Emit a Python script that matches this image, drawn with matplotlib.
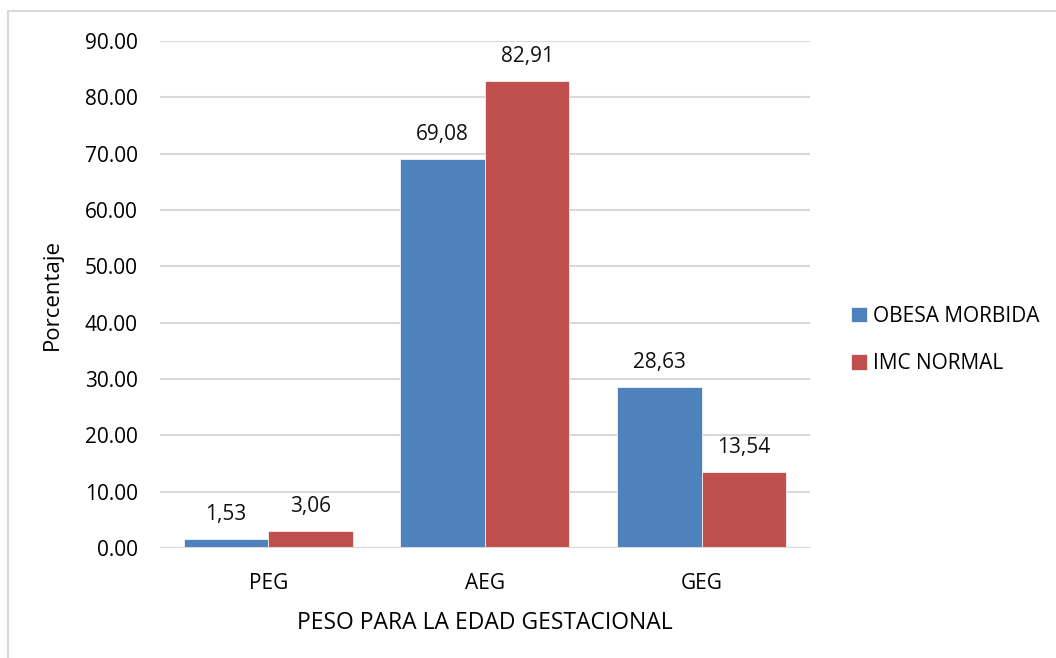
import numpy as np
import matplotlib
matplotlib.use("Agg")
import matplotlib.pyplot as plt
from matplotlib.patches import Rectangle

plt.rcParams['font.family'] = ['Open Sans', 'DejaVu Sans']

categorias = ["PEG", "AEG", "GEG"]
series = ["OBESA MORBIDA", "IMC NORMAL"]
obesa = [1.53, 69.08, 28.63]
normal = [3.06, 82.91, 13.54]
colores = ["#4F81BD", "#C0504D"]
yticks = [0, 10, 20, 30, 40, 50, 60, 70, 80, 90]

fig = plt.figure(figsize=(10.56, 6.58), dpi=100)
ax = fig.add_axes([160 / 1056, 1 - 548 / 658, 650 / 1056, 507 / 658])

x = np.arange(len(categorias))
w = 0.39
for i, (vals, nombre) in enumerate(zip([obesa, normal], series)):
    pos = x + (i - 0.5) * w
    bars = ax.bar(pos, vals, w, color=colores[i], label=nombre,
                  edgecolor="white", linewidth=0.5, zorder=3)
    for b, v in zip(bars, vals):
        ax.annotate(f"{v:.2f}".replace(".", ","),
                    (b.get_x() + b.get_width() / 2, v),
                    xytext=(0, 10), textcoords="offset points",
                    ha="center", va="bottom", fontsize=15, color="#111111")

ax.set_xlim(-0.5, 2.5)
ax.set_ylim(0, 90)
ax.set_yticks(yticks)
ax.set_yticklabels([f"{t:.2f}" for t in yticks], fontsize=15)
ax.set_xticks(x)
ax.set_xticklabels(categorias, fontsize=15)
ax.tick_params(axis="y", length=0, pad=16)
ax.tick_params(axis="x", length=0, pad=18)
ax.grid(axis="y", color="#d9d9d9", linewidth=1.5, zorder=0)
for s in ax.spines.values():
    s.set_visible(False)
ax.axhline(0, color="#d9d9d9", linewidth=1.5, zorder=4)

ax.set_xlabel("PESO PARA LA EDAD GESTACIONAL", fontsize=16.5, labelpad=12)
ax.set_ylabel("Porcentaje", fontsize=16, labelpad=16)

leg = ax.legend(loc="center left", bbox_to_anchor=(1.035, 0.41), frameon=False,
                fontsize=15, handlelength=0.75, handleheight=0.75,
                handletextpad=0.3, labelspacing=1.25)

# marco gris del grafico
fig.patches.append(Rectangle((8 / 1056, -0.1), 1.2, 1 - 11 / 658 + 0.1,
                             transform=fig.transFigure, fill=False,
                             edgecolor="#d9d9d9", linewidth=1.5))

fig.savefig("out.png", dpi=100)
